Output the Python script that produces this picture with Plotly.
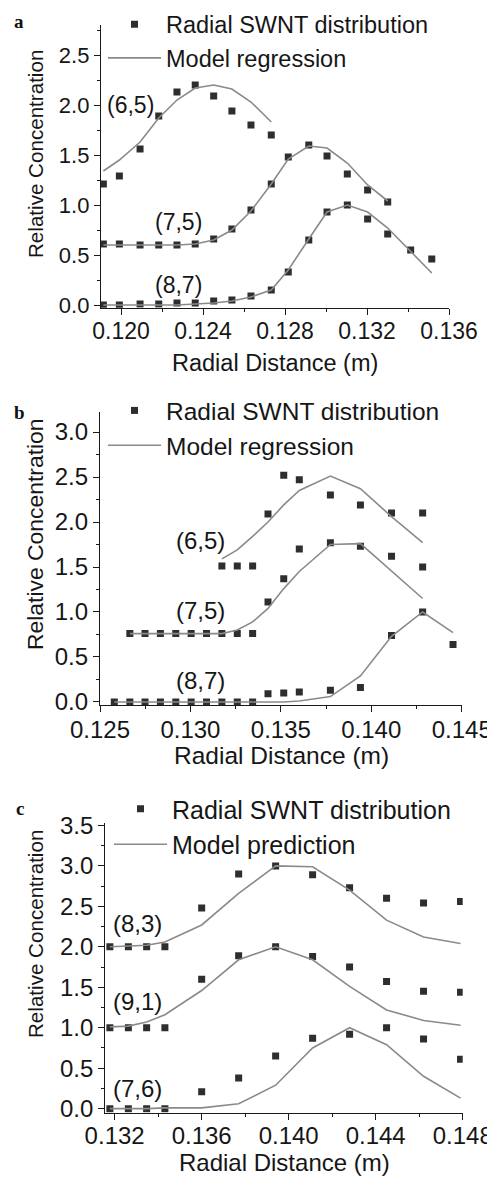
import plotly.graph_objects as go

# ---------------- data ----------------
# panel a
a_x = [0.11914, 0.11992, 0.12093, 0.12184, 0.12273, 0.12362, 0.12452, 0.12541, 0.12634,
       0.12733, 0.12816, 0.12916, 0.13005, 0.13104, 0.13203, 0.13301, 0.13413, 0.13516]
a_65_data = [1.21, 1.29, 1.56, 1.89, 2.13, 2.20, 2.09, 1.94, 1.80, 1.70]
a_65_model = [1.34, 1.45, 1.63, 1.87, 2.05, 2.17, 2.20, 2.16, 2.03, 1.83]
a_75_data = [0.61, 0.61, 0.60, 0.60, 0.60, 0.61, 0.66, 0.76, 0.95, 1.21, 1.48, 1.60, 1.49, 1.31, 1.15, 1.03]
a_75_model = [0.60, 0.60, 0.60, 0.60, 0.60, 0.61, 0.65, 0.75, 0.94, 1.21, 1.46, 1.59, 1.57, 1.42, 1.20, 1.04]
a_87_data = [0.00, 0.00, 0.01, 0.01, 0.02, 0.02, 0.04, 0.05, 0.09, 0.15, 0.33, 0.65, 0.93, 1.00, 0.86, 0.71, 0.55, 0.46]
a_87_model = [0.00, 0.00, 0.00, 0.00, 0.00, 0.01, 0.02, 0.04, 0.08, 0.15, 0.35, 0.66, 0.93, 1.00, 0.93, 0.77, 0.53, 0.32]

# panel b
b_x = [0.12579, 0.12665, 0.12749, 0.12834, 0.12919, 0.13004, 0.13089, 0.13174, 0.13259,
       0.13344, 0.13429, 0.13516, 0.13602, 0.13774, 0.13940, 0.14112, 0.14284, 0.14452]
b_65_data = [1.51, 1.51, 1.51, 2.09, 2.52, 2.47, 2.30, 2.19, 2.10, 2.10]          # idx 7..16
b_65_model = [1.59, 1.69, 1.84, 2.00, 2.19, 2.35, 2.51, 2.37, 2.06, 1.77]
b_75_data = [0.76, 0.76, 0.76, 0.76, 0.76, 0.76, 0.76, 0.76, 0.76,
             1.11, 1.37, 1.70, 1.77, 1.73, 1.62, 1.50]                              # idx 1..16
b_75_model = [0.76, 0.76, 0.76, 0.76, 0.76, 0.76, 0.76, 0.80, 0.89,
              1.04, 1.26, 1.45, 1.75, 1.76, 1.46, 1.15]
b_87_data = [0.00, 0.00, 0.00, 0.00, 0.00, 0.00, 0.00, 0.00, 0.00, 0.00,
             0.09, 0.10, 0.11, 0.13, 0.16, 0.74, 1.00, 0.64]                        # idx 0..17
b_87_model = [0.00, 0.00, 0.00, 0.00, 0.00, 0.00, 0.00, 0.00, 0.00, 0.00,
              0.00, 0.00, 0.01, 0.06, 0.29, 0.73, 1.00, 0.77]

# panel c
c_x = [0.13178, 0.13263, 0.13347, 0.13431, 0.13600, 0.13770, 0.13940, 0.14110,
       0.14280, 0.14450, 0.14620, 0.14790]
c_83_data = [2.00, 2.00, 2.00, 2.00, 2.48, 2.90, 3.00, 2.89, 2.73, 2.60, 2.54, 2.56]
c_83_model = [2.00, 2.01, 2.02, 2.06, 2.27, 2.66, 3.00, 2.99, 2.70, 2.33, 2.12, 2.04]
c_91_data = [1.00, 1.00, 1.00, 1.00, 1.60, 1.89, 2.00, 1.88, 1.75, 1.57, 1.45, 1.44]
c_91_model = [1.01, 1.02, 1.07, 1.16, 1.46, 1.84, 2.00, 1.84, 1.51, 1.22, 1.09, 1.03]
c_76_data = [0.00, 0.00, 0.00, 0.00, 0.21, 0.38, 0.65, 0.87, 0.92, 1.00, 0.86, 0.61]
c_76_model = [0.00, 0.00, 0.00, 0.01, 0.01, 0.06, 0.29, 0.75, 1.00, 0.79, 0.40, 0.13]

legend_data = "Radial SWNT distribution"
legend_model_ab = "Model regression"
legend_model_c = "Model prediction"

# ---------------- styling ----------------
# the page body has an 8 px margin, so the figure is drawn from (8, 8)
OFF = 8
W, H = 495 - OFF, 1178 - OFF
FONT = "Liberation Sans, Arial, sans-serif"
TXT = "#161616"
MCOL = "#2e2e2e"
LCOL = "#8a8a8a"
MSIZE = 7
LW = 1.6


def px(x):
    return (x - OFF) / W


def py(y):
    return 1 - (y - OFF) / H


fig = go.Figure()


def add_pair(xs, data, model, xa, ya, leg, show, model_name):
    fig.add_trace(go.Scatter(
        x=xs, y=data, mode="markers", name=legend_data,
        marker=dict(symbol="square", size=MSIZE, color=MCOL),
        xaxis=xa, yaxis=ya, legend=leg, showlegend=show, legendrank=1))
    fig.add_trace(go.Scatter(
        x=xs, y=model, mode="lines", name=model_name,
        line=dict(color=LCOL, width=LW),
        xaxis=xa, yaxis=ya, legend=leg, showlegend=show, legendrank=2))


# panel a
add_pair(a_x[:10], a_65_data, a_65_model, "x", "y", "legend", True, legend_model_ab)
add_pair(a_x[:16], a_75_data, a_75_model, "x", "y", "legend", False, legend_model_ab)
add_pair(a_x, a_87_data, a_87_model, "x", "y", "legend", False, legend_model_ab)
# panel b
add_pair(b_x[7:17], b_65_data, b_65_model, "x2", "y2", "legend2", True, legend_model_ab)
add_pair(b_x[1:17], b_75_data, b_75_model, "x2", "y2", "legend2", False, legend_model_ab)
add_pair(b_x, b_87_data, b_87_model, "x2", "y2", "legend2", False, legend_model_ab)
# panel c
add_pair(c_x, c_83_data, c_83_model, "x3", "y3", "legend3", True, legend_model_c)
add_pair(c_x, c_91_data, c_91_model, "x3", "y3", "legend3", False, legend_model_c)
add_pair(c_x, c_76_data, c_76_model, "x3", "y3", "legend3", False, legend_model_c)


def xaxis(domain, rng, tick0, dtick, anchor, fs, standoff=-3):
    return dict(domain=domain, range=rng, anchor=anchor, tickmode="linear", tick0=tick0,
                dtick=dtick, tickformat=".3f", showline=True, linecolor="#1a1a1a",
                linewidth=1.3, ticks="outside", ticklen=6, tickwidth=1.3,
                tickcolor="#1a1a1a", showgrid=False, zeroline=False, automargin=False,
                ticklabelstandoff=standoff,
                tickfont=dict(family=FONT, size=fs, color=TXT),
                minor=dict(ticks="outside", ticklen=3, tickwidth=1.1,
                           tickcolor="#1a1a1a", dtick=dtick / 2, tick0=tick0, showgrid=False))


def yaxis(domain, rng, anchor, fs):
    return dict(domain=domain, range=rng, anchor=anchor, tickmode="linear", tick0=0,
                dtick=0.5, tickformat=".1f", showline=True, linecolor="#1a1a1a",
                linewidth=1.3, ticks="outside", ticklen=6, tickwidth=1.3,
                tickcolor="#1a1a1a", showgrid=False, zeroline=False, automargin=False,
                tickfont=dict(family=FONT, size=fs, color=TXT),
                minor=dict(ticks="outside", ticklen=3, tickwidth=1.1,
                           tickcolor="#1a1a1a", dtick=0.25, tick0=0, showgrid=False))


layout = dict(
    width=W, height=H, margin=dict(l=0, r=0, t=0, b=0, pad=0, autoexpand=False),
    paper_bgcolor="white", plot_bgcolor="white", showlegend=True,
    font=dict(family=FONT, color=TXT),
    xaxis=xaxis([px(101), px(449)], [0.119024, 0.136], 0.120, 0.004, "y", 23),
    yaxis=yaxis([py(307.7), py(25)], [-0.027, 2.8], "x", 22),
    xaxis2=xaxis([px(100), px(461.7)], [0.125, 0.145], 0.125, 0.005, "y2", 24),
    yaxis2=yaxis([py(705.3), py(411.7)], [-0.037, 3.226], "x2", 24),
    xaxis3=xaxis([px(105.3), px(462.7)], [0.13157, 0.148], 0.132, 0.004, "y3", 24, -5),
    yaxis3=yaxis([py(1112.7), py(823)], [-0.05, 3.53], "x3", 24),
)

legend_common = dict(bgcolor="rgba(0,0,0,0)", borderwidth=0, xanchor="left", yanchor="top",
                     itemwidth=53, traceorder="normal", tracegroupgap=0)
layout["legend"] = dict(legend_common, x=px(103), y=py(2.5),
                        font=dict(family=FONT, size=23.5, color=TXT))
layout["legend2"] = dict(legend_common, x=px(103), y=py(388),
                         font=dict(family=FONT, size=24.5, color=TXT))
layout["legend3"] = dict(legend_common, x=px(109), y=py(786),
                         font=dict(family=FONT, size=25, color=TXT))

fig.update_layout(**layout)

ann = []


def label(text, x, y, xref, yref, size):
    ann.append(dict(text=text, x=x, y=y, xref=xref, yref=yref, showarrow=False,
                    xanchor="center", yanchor="middle",
                    font=dict(family=FONT, size=size, color=TXT)))


# chirality labels (data coordinates)
label("(6,5)", 0.12044, 2.00, "x", "y", 23)
label("(7,5)", 0.12280, 0.83, "x", "y", 23)
label("(8,7)", 0.12278, 0.20, "x", "y", 23)
label("(6,5)", 0.13054, 1.80, "x2", "y2", 24)
label("(7,5)", 0.13054, 1.02, "x2", "y2", 24)
label("(8,7)", 0.13054, 0.24, "x2", "y2", 24)
label("(8,3)", 0.13307, 2.29, "x3", "y3", 24)
label("(9,1)", 0.13307, 1.32, "x3", "y3", 24)
label("(7,6)", 0.13307, 0.25, "x3", "y3", 24)

# axis titles
label("Radial Distance (m)", px(275), py(363), "paper", "paper", 23.5)
label("Radial Distance (m)", px(281), py(755), "paper", "paper", 24.5)
label("Radial Distance (m)", px(284), py(1162.5), "paper", "paper", 24)
for yy, sz in [(154, 20.6), (534, 22.9), (934, 20.6)]:
    ann.append(dict(text="Relative Concentration", x=px(35), y=py(yy), xref="paper",
                    yref="paper", showarrow=False, textangle=-90, xanchor="center",
                    yanchor="middle", font=dict(family=FONT, size=sz, color=TXT)))

# panel letters
for t, xx, yy in [("a", 19, 9), ("b", 19, 400), ("c", 20, 796)]:
    ann.append(dict(text="<b>%s</b>" % t, x=px(xx), y=py(yy), xref="paper", yref="paper",
                    showarrow=False, xanchor="center", yanchor="top",
                    font=dict(family="Liberation Serif, Times New Roman, serif", size=19,
                              color="#111")))

fig.update_layout(annotations=ann)
fig.write_html("out.html")
